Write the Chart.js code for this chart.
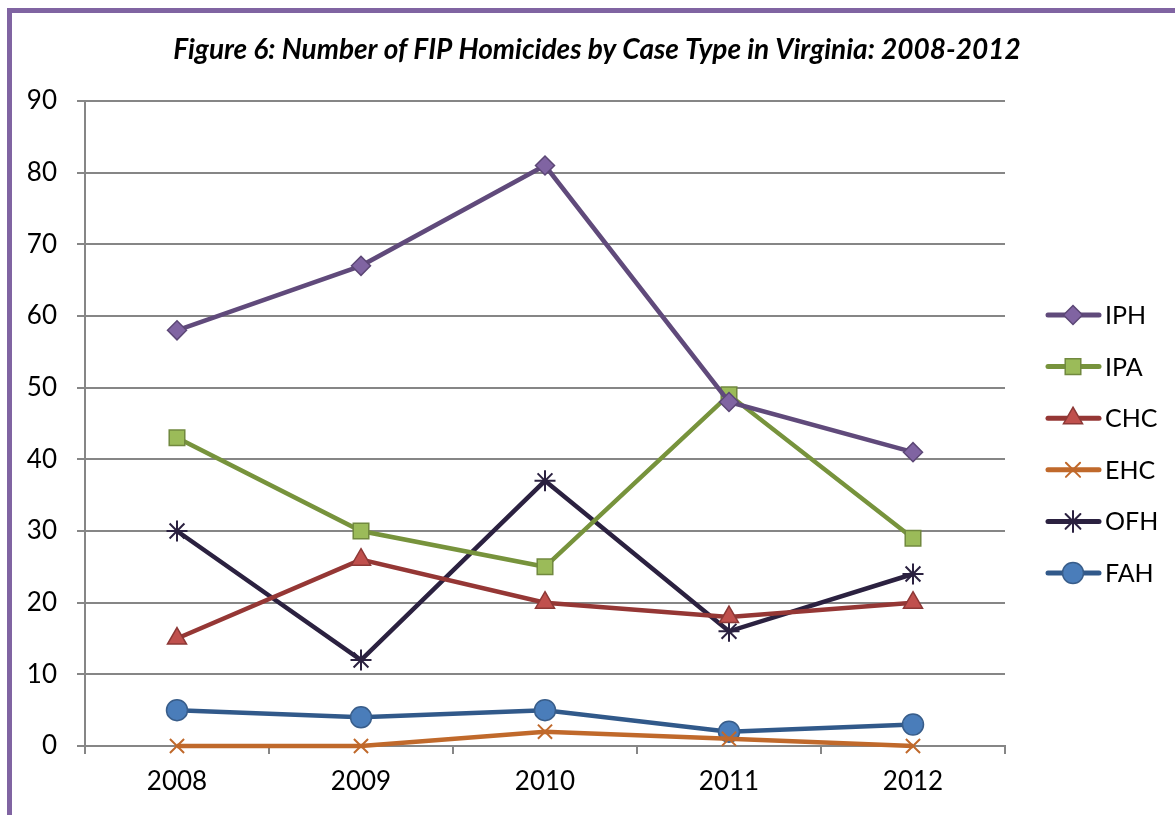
<!DOCTYPE html>
<html>
<head>
<meta charset="utf-8">
<script src="https://cdn.jsdelivr.net/npm/chart.js@4"></script>
<style>
  html, body { margin: 0; padding: 0; background: #fff; overflow: hidden; }
  #frame { position: absolute; left: 7px; top: 8px; width: 1200px; height: 900px;
           border-left: 5px solid #8064A2; border-top: 5px solid #8064A2; }
  #wrap { position: absolute; left: 0; top: 0; width: 1175px; height: 815px; }
</style>
</head>
<body>
<div id="frame"></div>
<div id="wrap"><canvas id="lineChart"></canvas></div>
<script>
var years = ['2008', '2009', '2010', '2011', '2012'];
var iph = [58, 67, 81, 48, 41];
var ipa = [43, 30, 25, 49, 29];
var chc = [15, 26, 20, 18, 20];
var ehc = [0, 0, 2, 1, 0];
var ofh = [30, 12, 37, 16, 24];
var fah = [5, 4, 5, 2, 3];
var yTicks = [0, 10, 20, 30, 40, 50, 60, 70, 80, 90];
var chartTitle = 'Figure 6: Number of FIP Homicides by Case Type in Virginia: 2008-2012';

var FONT = 'Lato, "Open Sans", sans-serif';

// title sits centred over plot + legend, so draw it here
var topTitle = {
    id: 'topTitle',
    afterDraw: function (chart) {
        var ctx = chart.ctx;
        ctx.save();
        ctx.fillStyle = '#000';
        ctx.font = 'italic bold 28px ' + FONT;
        ctx.textAlign = 'center';
        ctx.textBaseline = 'middle';
        ctx.fillText(chartTitle, 597, 50);
        ctx.restore();
    }
};

// legend drawn as line + marker, like the original
var sideLegend = {
    id: 'sideLegend',
    afterDraw: function (chart) {
        var ctx = chart.ctx;
        chart.data.datasets.forEach(function (ds, i) {
            var y = 315 + i * 51.6;
            ctx.save();
            ctx.strokeStyle = ds.borderColor;
            ctx.lineWidth = 5;
            ctx.lineCap = 'round';
            ctx.beginPath();
            ctx.moveTo(1048, y);
            ctx.lineTo(1099, y);
            ctx.stroke();
            ctx.fillStyle = ds.pointBackgroundColor;
            ctx.strokeStyle = ds.pointBorderColor;
            ctx.lineWidth = ds.pointBorderWidth;
            Chart.helpers.drawPoint(ctx, { pointStyle: ds.pointStyle, radius: ds.pointRadius, rotation: 0, borderWidth: ds.pointBorderWidth }, 1073, y);
            ctx.fillStyle = '#000';
            ctx.font = '25px ' + FONT;
            ctx.textBaseline = 'middle';
            ctx.textAlign = 'left';
            ctx.fillText(ds.label, 1105, y + 1);
            ctx.restore();
        });
    }
};

function series(label, data, line, fill, border, style, r, bw) {
    return {
        label: label,
        data: data,
        borderColor: line,
        borderWidth: 4.5,
        pointStyle: style,
        pointRadius: r,
        pointHoverRadius: r,
        pointBackgroundColor: fill,
        pointBorderColor: border,
        pointBorderWidth: bw,
        tension: 0,
        fill: false,
        clip: false
    };
}

new Chart(document.getElementById('lineChart'), {
    type: 'line',
    data: {
        labels: years,
        datasets: [
            series('IPH', iph, '#604A7B', '#8064A2', '#5C4776', 'rectRot', 9.5, 1.5),
            series('IPA', ipa, '#77933C', '#9BBB59', '#71893F', 'rect', 11, 1.5),
            series('CHC', chc, '#953735', '#C0504D', '#8C3836', 'triangle', 11, 1.5),
            series('EHC', ehc, '#C0692B', '#E46C0A', '#C0692B', 'crossRot', 10, 2),
            series('OFH', ofh, '#2B2140', '#2B2140', '#2B2140', 'star', 10.5, 2),
            series('FAH', fah, '#31598A', '#4A7DBA', '#385D8A', 'circle', 10.5, 1.5)
        ]
    },
    plugins: [topTitle, sideLegend],
    options: {
        responsive: true,
        maintainAspectRatio: false,
        animation: false,
        layout: { padding: { left: 0, right: 170, top: 101, bottom: 0 } },
        plugins: {
            legend: { display: false },
            tooltip: { enabled: false },
            title: { display: false }
        },
        scales: {
            x: {
                offset: true,
                grid: { offset: true, drawOnChartArea: false, color: '#868686', lineWidth: 2, tickLength: 8 },
                border: { color: '#868686', width: 2 },
                ticks: { color: '#000', font: { family: FONT, size: 26 }, padding: 12 },
                afterFit: function (s) { s.height = 69; }
            },
            y: {
                min: 0,
                max: 90,
                afterBuildTicks: function (s) { s.ticks = yTicks.map(function (v) { return { value: v }; }); },
                grid: { color: '#868686', lineWidth: 2, tickLength: 8 },
                border: { color: '#868686', width: 2 },
                ticks: { color: '#000', font: { family: FONT, size: 26 }, padding: 20 },
                afterFit: function (s) { s.width = 85; }
            }
        }
    }
});
</script>
</body>
</html>
